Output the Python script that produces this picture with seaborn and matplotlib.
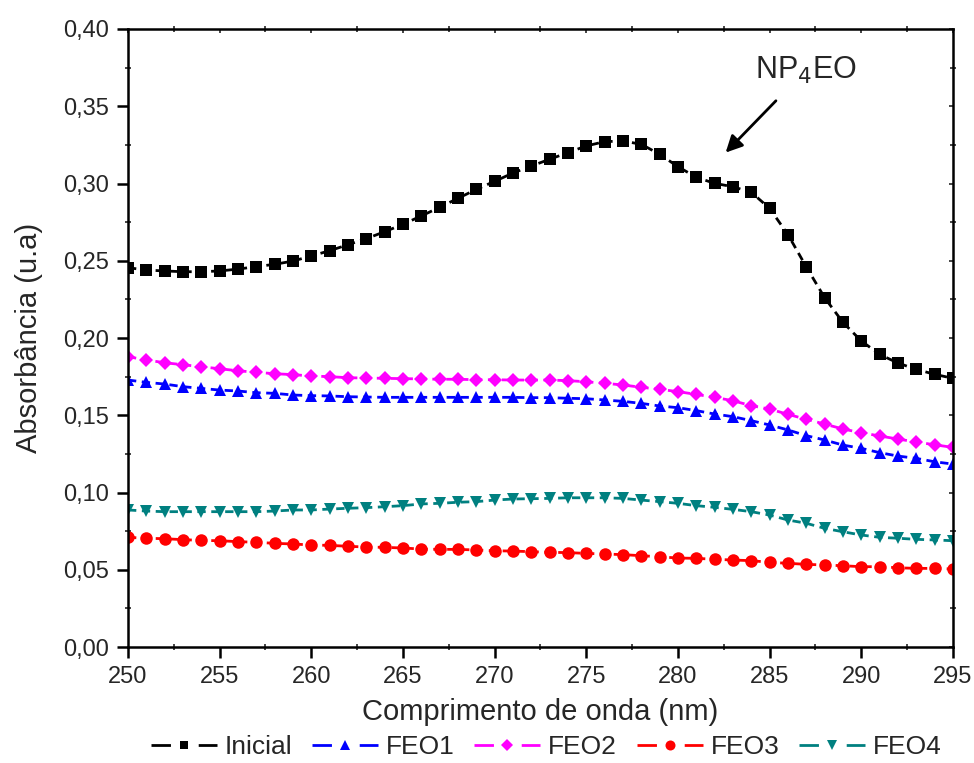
import numpy as np
import pandas as pd
import seaborn as sns
import matplotlib.pyplot as plt
from matplotlib.lines import Line2D
from matplotlib.ticker import MultipleLocator, FuncFormatter

wavelength = list(range(250, 296))

inicial = [0.2455, 0.2440, 0.2434, 0.2429, 0.2429, 0.2434, 0.2446, 0.2462, 0.2477, 0.2498,
           0.2531, 0.2565, 0.2604, 0.2643, 0.2688, 0.2736, 0.2790, 0.2846, 0.2904, 0.2962,
           0.3014, 0.3068, 0.3113, 0.3157, 0.3200, 0.3243, 0.3271, 0.3275, 0.3254, 0.3189,
           0.3109, 0.3040, 0.3001, 0.2979, 0.2943, 0.2839, 0.2669, 0.2460, 0.2261, 0.2101,
           0.1981, 0.1894, 0.1838, 0.1797, 0.1765, 0.1739]

feo1 = [0.1728, 0.1713, 0.1702, 0.1685, 0.1674, 0.1663, 0.1657, 0.1646, 0.1642, 0.1631,
        0.1627, 0.1625, 0.1620, 0.1618, 0.1616, 0.1616, 0.1616, 0.1616, 0.1616, 0.1616,
        0.1616, 0.1616, 0.1614, 0.1614, 0.1610, 0.1607, 0.1599, 0.1590, 0.1577, 0.1560,
        0.1549, 0.1530, 0.1508, 0.1491, 0.1465, 0.1437, 0.1405, 0.1368, 0.1340, 0.1307,
        0.1286, 0.1258, 0.1236, 0.1221, 0.1199, 0.1184]

feo2 = [0.1879, 0.1858, 0.1840, 0.1827, 0.1814, 0.1801, 0.1788, 0.1778, 0.1769, 0.1763,
        0.1754, 0.1750, 0.1743, 0.1741, 0.1739, 0.1737, 0.1735, 0.1733, 0.1733, 0.1730,
        0.1730, 0.1728, 0.1728, 0.1728, 0.1724, 0.1717, 0.1707, 0.1696, 0.1681, 0.1668,
        0.1653, 0.1635, 0.1616, 0.1594, 0.1562, 0.1540, 0.1506, 0.1474, 0.1443, 0.1411,
        0.1387, 0.1366, 0.1346, 0.1327, 0.1309, 0.1292]

feo3 = [0.0710, 0.0704, 0.0701, 0.0695, 0.0690, 0.0688, 0.0682, 0.0678, 0.0671, 0.0667,
        0.0660, 0.0658, 0.0652, 0.0647, 0.0645, 0.0641, 0.0634, 0.0632, 0.0632, 0.0628,
        0.0623, 0.0621, 0.0617, 0.0613, 0.0611, 0.0606, 0.0602, 0.0598, 0.0591, 0.0584,
        0.0576, 0.0574, 0.0568, 0.0563, 0.0559, 0.0548, 0.0542, 0.0535, 0.0531, 0.0526,
        0.0520, 0.0520, 0.0513, 0.0509, 0.0509, 0.0505]

feo4 = [0.0887, 0.0880, 0.0876, 0.0876, 0.0876, 0.0876, 0.0876, 0.0876, 0.0880, 0.0887,
        0.0887, 0.0893, 0.0898, 0.0902, 0.0908, 0.0915, 0.0926, 0.0930, 0.0937, 0.0941,
        0.0951, 0.0958, 0.0960, 0.0962, 0.0966, 0.0966, 0.0966, 0.0962, 0.0951, 0.0941,
        0.0930, 0.0915, 0.0904, 0.0891, 0.0876, 0.0854, 0.0822, 0.0801, 0.0768, 0.0746,
        0.0725, 0.0710, 0.0704, 0.0697, 0.0693, 0.0688]

series_names = ["Inicial", "FEO1", "FEO2", "FEO3", "FEO4"]
series_values = [inicial, feo1, feo2, feo3, feo4]
series_colors = ["#000000", "#0000FF", "#FF00FF", "#FF0000", "#008080"]
series_markers = ["s", "^", "D", "o", "v"]
series_msize = [8.0, 9.0, 7.5, 9.0, 9.0]

sns.set_style("white")
plt.rcParams["font.family"] = ["Liberation Sans", "DejaVu Sans"]

fig = plt.figure(figsize=(9.74, 7.63), dpi=100)
ax = fig.add_axes([0.1314, 0.152, 0.8470, 0.810])

for name, vals, col, mk, ms in zip(series_names, series_values, series_colors,
                                   series_markers, series_msize):
    df = pd.DataFrame({"x": wavelength, "y": vals})
    sns.lineplot(data=df, x="x", y="y", ax=ax, color=col, marker=mk,
                 markersize=ms, markeredgewidth=0, linewidth=2.0,
                 linestyle=(0, (3, 2)), legend=False)

ax.set_xlim(250, 295)
ax.set_ylim(0, 0.40)
ax.xaxis.set_major_locator(MultipleLocator(5))
ax.xaxis.set_minor_locator(MultipleLocator(2.5))
ax.yaxis.set_major_locator(MultipleLocator(0.05))
ax.yaxis.set_minor_locator(MultipleLocator(0.025))
ax.yaxis.set_major_formatter(FuncFormatter(lambda v, p: f"{v:.2f}".replace(".", ",")))

for sp in ax.spines.values():
    sp.set_visible(True)
    sp.set_color("black")
    sp.set_linewidth(1.8)

ax.tick_params(axis="both", which="major", direction="out", length=8, width=1.8,
               labelsize=17, pad=6, color="black", bottom=True, left=True,
               top=False, right=False)
ax.tick_params(axis="both", which="minor", direction="inout", length=4, width=1.2,
               bottom=True, left=True, top=True, right=True)

# small inward ticks along the top and right edges
top = ax.secondary_xaxis("top")
top.xaxis.set_major_locator(MultipleLocator(5))
top.tick_params(direction="in", length=3, width=1.2, labeltop=False)
top.spines["top"].set_visible(False)
right = ax.secondary_yaxis("right")
right.yaxis.set_major_locator(MultipleLocator(0.05))
right.tick_params(direction="in", length=3, width=1.2, labelright=False)
right.spines["right"].set_visible(False)

ax.set_xlabel("Comprimento de onda (nm)", fontsize=21, labelpad=7)
ax.set_ylabel("Absorbância (u.a)", fontsize=21, labelpad=14)

ax.annotate("NP$_4$EO", xy=(282.6, 0.320), xytext=(284.2, 0.368),
            fontsize=22, ha="left", va="baseline",
            arrowprops=dict(arrowstyle="-|>", color="black", lw=2,
                            mutation_scale=25, shrinkA=12, shrinkB=0))

handles = [Line2D([], [], color=c, marker=m, markersize=s * 0.8, markeredgewidth=0,
                  linewidth=2.0, linestyle=(0, (7.0, 10.0)))
           for c, m, s in zip(series_colors, series_markers, series_msize)]
ax.legend(handles, series_names, loc="center", bbox_to_anchor=(0.507, -0.162),
          ncol=5, frameon=False, fontsize=19, handlelength=2.5, handletextpad=0.3,
          columnspacing=0.75, borderaxespad=0)

fig.savefig("out.png", dpi=100)
